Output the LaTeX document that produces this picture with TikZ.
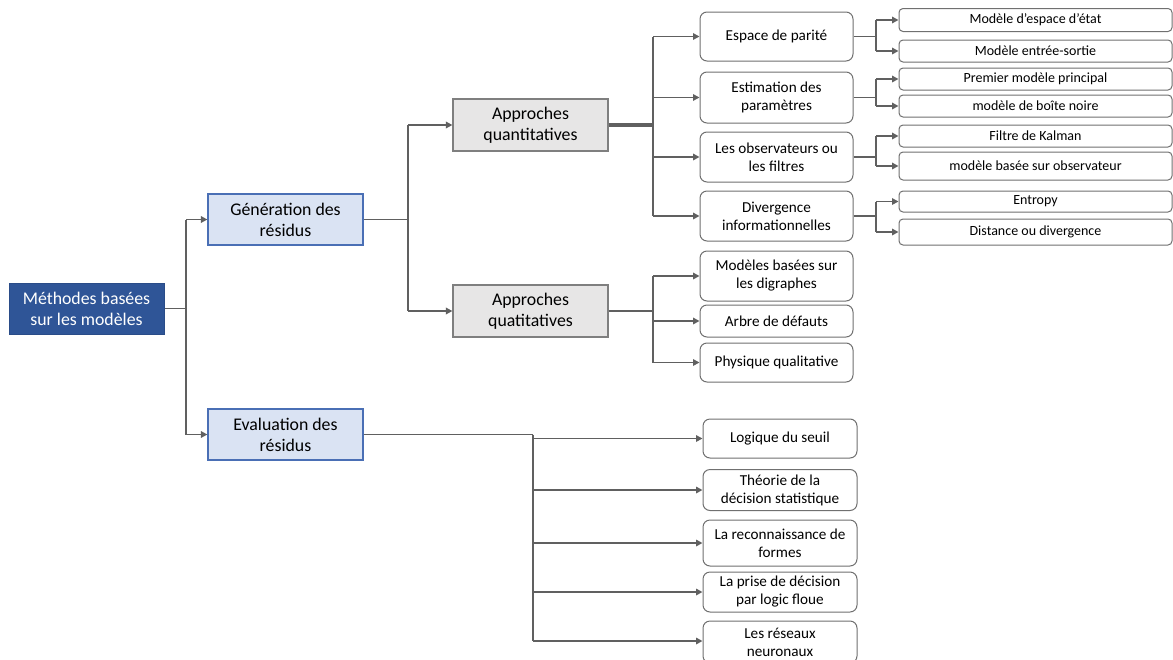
\documentclass[tikz,border=0pt]{standalone}
\usepackage{fontspec}
\setmainfont{Carlito}
\usetikzlibrary{arrows.meta}
\definecolor{rootblue}{HTML}{2F5597}
\definecolor{lightblue}{HTML}{DAE3F3}
\definecolor{blueborder}{HTML}{4A6FB5}
\definecolor{lightgray}{HTML}{E7E6E6}
\definecolor{grayborder}{HTML}{7F7F7F}
\definecolor{linegray}{HTML}{606060}
\begin{document}
\begin{tikzpicture}[x=1pt,y=-1pt,
  base/.style={align=center, inner sep=0pt, minimum width=155pt, minimum height=51pt},
  rootbox/.style={base, fill=rootblue, draw=rootblue!90!black, line width=1pt, text=white, font=\fontsize{17.8}{21}\selectfont},
  lvlbox/.style={base, fill=lightblue, draw=blueborder, line width=1.2pt, font=\fontsize{17.8}{21}\selectfont},
  apbox/.style={base, fill=lightgray, draw=grayborder, line width=1.2pt, minimum height=52pt, font=\fontsize{17.8}{21}\selectfont},
  childbox/.style={align=center, inner sep=0pt, minimum width=153pt, fill=white, draw=linegray!90, line width=1pt, rounded corners=7pt, font=\fontsize{15.2}{18}\selectfont},
  leafbox/.style={align=center, inner sep=0pt, minimum width=273pt, fill=white, draw=linegray!90, line width=1pt, rounded corners=4pt, font=\fontsize{14}{16}\selectfont},
  conn/.style={draw=linegray, line width=1.8pt},
  arr/.style={conn, -{Triangle[length=6.5pt,width=6.5pt]}}
]
\useasboundingbox (0,0) rectangle (1173,659);

% level 0
\node[rootbox] (root) at (86.5,308.5) {Méthodes basées\\sur les modèles};
% level 1
\node[lvlbox] (gen) at (285.5,219.5) {Génération des\\résidus};
\node[lvlbox] (eval) at (285.5,434.5) {Evaluation des\\résidus};
% level 2
\node[apbox] (aq) at (530.5,125) {Approches\\quantitatives};
\node[apbox] (aql) at (530.5,311) {Approches\\quatitatives};
% quantitative children
\node[childbox, minimum height=49pt] (c1) at (776.5,36.5) {Espace de parité};
\node[childbox, minimum height=51pt] (c2) at (776.5,97.5) {Estimation des\\paramètres};
\node[childbox, minimum height=50pt] (c3) at (776.5,157) {Les observateurs ou\\les filtres};
\node[childbox, minimum height=50pt] (c4) at (776.5,216) {Divergence\\informationnelles};
% qualitative children
\node[childbox, minimum height=50pt] (q1) at (776.5,276) {Modèles basées sur\\les digraphes};
\node[childbox, minimum height=32pt] (q2) at (776.5,321) {Arbre de défauts};
\node[childbox, minimum height=39pt] (q3) at (776.5,362.5) {Physique qualitative};
% leaves
\node[leafbox, minimum height=23pt] (l1) at (1035.5,20) {Modèle d’espace d’état};
\node[leafbox, minimum height=22pt] (l2) at (1035.5,51) {Modèle entrée-sortie};
\node[leafbox, minimum height=22pt] (l3) at (1035.5,79) {Premier modèle principal};
\node[leafbox, minimum height=22pt] (l4) at (1035.5,106) {modèle de boîte noire};
\node[leafbox, minimum height=22pt] (l5) at (1035.5,136) {Filtre de Kalman};
\node[leafbox, minimum height=28pt] (l6) at (1035.5,166) {modèle basée sur observateur};
\node[leafbox, minimum height=21pt] (l7) at (1035.5,201.5) {Entropy};
\node[leafbox, minimum height=26pt] (l8) at (1035.5,232) {Distance ou divergence};
% evaluation children
\node[childbox, minimum width=154pt, minimum height=39pt] (e1) at (780,438.5) {Logique du seuil};
\node[childbox, minimum width=154pt, minimum height=41pt] (e2) at (780,490) {Théorie de la\\décision statistique};
\node[childbox, minimum width=154pt, minimum height=46pt] (e3) at (780,543) {La reconnaissance de\\formes};
\node[childbox, minimum width=154pt, minimum height=40pt] (e4) at (780,592) {La prise de décision\\par logic floue};
\node[childbox, minimum width=154pt, minimum height=42pt] (e5) at (780,642) {Les réseaux\\neuronaux};

% connectors: root
\coordinate (t0) at (186,308.5);
\draw[conn] (root.east) -- (t0);
\draw[conn] (t0 |- gen) -- (t0 |- eval);
\draw[arr] (t0 |- gen) -- (gen.west);
\draw[arr] (t0 |- eval) -- (eval.west);
% generation
\coordinate (t1) at (408,219.5);
\draw[conn] (gen.east) -- (t1);
\draw[conn] (t1 |- aq) -- (t1 |- aql);
\draw[arr] (t1 |- aq) -- (aq.west);
\draw[arr] (t1 |- aql) -- (aql.west);
% quantitative
\coordinate (t2) at (653,125);
\draw[conn, line width=3.2pt] (aq.east) -- (t2);
\draw[conn] (t2 |- c1) -- (t2 |- c4);
\foreach \c in {c1,c2,c3,c4} \draw[arr] (t2 |- \c) -- (\c.west);
% qualitative
\coordinate (t3) at (653,311);
\draw[conn] (aql.east) -- (t3);
\draw[conn] (t3 |- q1) -- (t3 |- q3);
\foreach \c in {q1,q2,q3} \draw[arr] (t3 |- \c) -- (\c.west);
% leaves
\coordinate (s1) at (876,36.5);
\draw[conn] (c1.east) -- (s1);
\draw[conn] (s1 |- l1) -- (s1 |- l2);
\draw[arr] (s1 |- l1) -- (l1.west);
\draw[arr] (s1 |- l2) -- (l2.west);
\coordinate (s2) at (876,97.5);
\draw[conn] (c2.east) -- (s2);
\draw[conn] (s2 |- l3) -- (s2 |- l4);
\draw[arr] (s2 |- l3) -- (l3.west);
\draw[arr] (s2 |- l4) -- (l4.west);
\coordinate (s3) at (876,157);
\draw[conn] (c3.east) -- (s3);
\draw[conn] (s3 |- l5) -- (s3 |- l6);
\draw[arr] (s3 |- l5) -- (l5.west);
\draw[arr] (s3 |- l6) -- (l6.west);
\coordinate (s4) at (876,216);
\draw[conn] (c4.east) -- (s4);
\draw[conn] (s4 |- l7) -- (s4 |- l8);
\draw[arr] (s4 |- l7) -- (l7.west);
\draw[arr] (s4 |- l8) -- (l8.west);
% evaluation
\coordinate (te) at (533,434.5);
\draw[conn] (eval.east) -- (te);
\draw[conn] (te) -- (te |- 0,641);
\draw[arr] (te |- e1) -- (e1.west);
\draw[arr] (te |- e2) -- (e2.west);
\draw[arr] (te |- e3) -- (e3.west);
\draw[arr] (te |- e4) -- (e4.west);
\draw[arr] (te |- 0,641) -- (e5.west |- 0,641);
\end{tikzpicture}
\end{document}
